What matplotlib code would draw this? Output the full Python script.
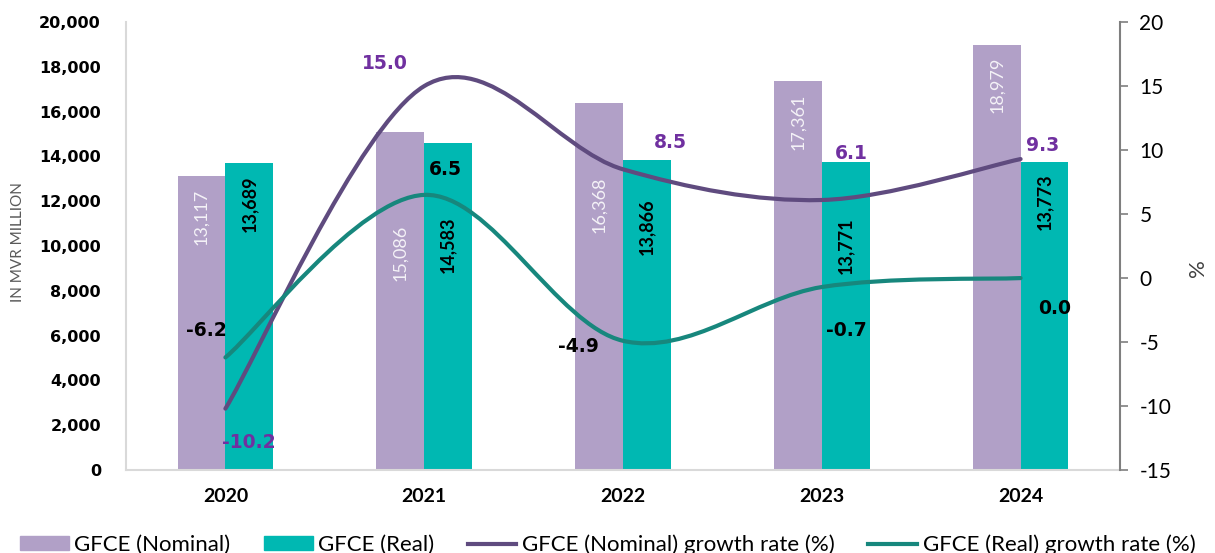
import numpy as np
import matplotlib
matplotlib.use("Agg")
import matplotlib.pyplot as plt
from matplotlib.path import Path
from matplotlib.patches import PathPatch, Patch
from matplotlib.lines import Line2D
from matplotlib.ticker import FuncFormatter, MultipleLocator

plt.rcParams["axes.unicode_minus"] = False

# ── Data ──────────────────────────────────────────────────────────────────────
years = ["2020", "2021", "2022", "2023", "2024"]
gfce_nominal = [13117, 15086, 16368, 17361, 18979]
gfce_real = [13689, 14583, 13866, 13771, 13773]
growth_nominal = [-10.2, 15.0, 8.5, 6.1, 9.3]
growth_real = [-6.2, 6.5, -4.9, -0.7, 0.0]

# manual label placement (how far below the bar top the rotated value sits)
drop_nominal = [1800, 5376, 4538, 1803, 1791]
drop_real = [1792, 4538, 2995, 3749, 1786]
# growth label offsets in pixels (dx, dy)
off_nominal = [(23, -34), (-39, 23), (47, 27), (30, 47), (22, 14)]
off_real = [(-19, 27), (21, 25), (-45, -6), (25, -43), (34, -30)]

# ── Colors ────────────────────────────────────────────────────────────────────
C_NOM_BAR = "#B1A0C7"
C_REAL_BAR = "#00B8B2"
C_NOM_LINE = "#5F4B7F"
C_REAL_LINE = "#17877D"
C_NOM_TXT = "#7030A0"

FONT = "Lato"


def smooth_path(xs, ys):
    # Excel-style smoothed line: Catmull-Rom converted to cubic Bezier
    pts = list(zip(xs, ys))
    n = len(pts)
    verts = [pts[0]]
    codes = [Path.MOVETO]
    for i in range(n - 1):
        p0 = pts[i - 1] if i > 0 else pts[i]
        p1 = pts[i]
        p2 = pts[i + 1]
        p3 = pts[i + 2] if i + 2 < n else pts[i + 1]
        c1 = (p1[0] + (p2[0] - p0[0]) / 6, p1[1] + (p2[1] - p0[1]) / 6)
        c2 = (p2[0] - (p3[0] - p1[0]) / 6, p2[1] - (p3[1] - p1[1]) / 6)
        verts += [c1, c2, p2]
        codes += [Path.CURVE4] * 3
    return Path(verts, codes)


fig = plt.figure(figsize=(12.15, 5.53), dpi=100)
ax = fig.add_axes([0.1037, 0.150, 0.8181, 0.810])
ax2 = ax.twinx()

x = np.arange(len(years))
w = 0.24

ax.bar(x - w / 2, gfce_nominal, width=w, color=C_NOM_BAR, zorder=2)
ax.bar(x + w / 2, gfce_real, width=w, color=C_REAL_BAR, zorder=2)

for i in range(len(years)):
    ax.text(x[i] - w / 2, gfce_nominal[i] - drop_nominal[i], f"{gfce_nominal[i]:,}",
            rotation=90, ha="center", va="center", fontsize=13,
            family=FONT, color="#F4F2F7", zorder=3)
    ax.text(x[i] + w / 2, gfce_real[i] - drop_real[i], f"{gfce_real[i]:,}",
            rotation=90, ha="center", va="center", fontsize=13,
            family=FONT, fontweight="bold", color="black", zorder=3)

ax.set_xlim(-0.5, len(years) - 0.5)
ax.set_ylim(0, 20000)
ax.yaxis.set_major_locator(MultipleLocator(2000))
ax.yaxis.set_major_formatter(FuncFormatter(lambda v, p: f"{int(v):,}"))
ax.set_xticks(x)
ax.set_xticklabels(years, fontsize=14, fontweight="bold", family=FONT)
ax.tick_params(axis="x", length=0, pad=13)
ax.tick_params(axis="y", length=0, pad=18)
for lab in ax.get_yticklabels():
    lab.set_fontsize(11.5)
    lab.set_fontweight("bold")
    lab.set_family("DejaVu Sans")
ax.set_ylabel("IN MVR MILLION", fontsize=11, family=FONT, color="#595959")
ax.yaxis.set_label_coords(-0.102, 0.51)

for s in ["top", "right"]:
    ax.spines[s].set_visible(False)
ax.spines["left"].set_color("#D9D9D9")
ax.spines["bottom"].set_color("#D9D9D9")
ax.spines["left"].set_linewidth(1.5)
ax.spines["bottom"].set_linewidth(1.5)

# ── Growth lines on the right axis ───────────────────────────────────────────
ax2.add_patch(PathPatch(smooth_path(x, growth_nominal), fill=False,
                        edgecolor=C_NOM_LINE, lw=3, capstyle="round", zorder=4))
ax2.add_patch(PathPatch(smooth_path(x, growth_real), fill=False,
                        edgecolor=C_REAL_LINE, lw=3, capstyle="round", zorder=4))

for i in range(len(years)):
    ax2.annotate(f"{growth_nominal[i]:.1f}", (x[i], growth_nominal[i]),
                 xytext=off_nominal[i], textcoords="offset pixels",
                 ha="center", va="center", fontsize=13.5, fontweight="bold",
                 family="DejaVu Sans", color=C_NOM_TXT, zorder=5)
    ax2.annotate(f"{growth_real[i]:.1f}", (x[i], growth_real[i]),
                 xytext=off_real[i], textcoords="offset pixels",
                 ha="center", va="center", fontsize=13.5, fontweight="bold",
                 family="DejaVu Sans", color="black", zorder=5)

ax2.set_ylim(-15, 20)
ax2.yaxis.set_major_locator(MultipleLocator(5))
ax2.tick_params(axis="y", length=6, width=1.2, color="#7F7F7F", pad=8)
for lab in ax2.get_yticklabels():
    lab.set_fontsize(15)
    lab.set_family(FONT)
for s in ["top", "left", "bottom"]:
    ax2.spines[s].set_visible(False)
ax2.spines["right"].set_color("#7F7F7F")
ax2.spines["right"].set_linewidth(1.5)
ax2.set_ylabel("%", fontsize=16, family=FONT, color="#404040")
ax2.yaxis.set_label_coords(1.068, 0.45)

# ── Legend ────────────────────────────────────────────────────────────────────
handles = [
    Patch(color=C_NOM_BAR, label="GFCE (Nominal)"),
    Patch(color=C_REAL_BAR, label="GFCE (Real)"),
    Line2D([], [], color=C_NOM_LINE, lw=3, label="GFCE (Nominal) growth rate (%)"),
    Line2D([], [], color=C_REAL_LINE, lw=3, label="GFCE (Real) growth rate (%)"),
]
fig.legend(handles=handles, loc="lower center", bbox_to_anchor=(0.5, -0.04), ncol=4,
           frameon=False, prop={"family": FONT, "size": 16},
           handlelength=2.2, handleheight=0.6, handletextpad=0.25, columnspacing=1.5)

plt.savefig("out.png", dpi=100)
